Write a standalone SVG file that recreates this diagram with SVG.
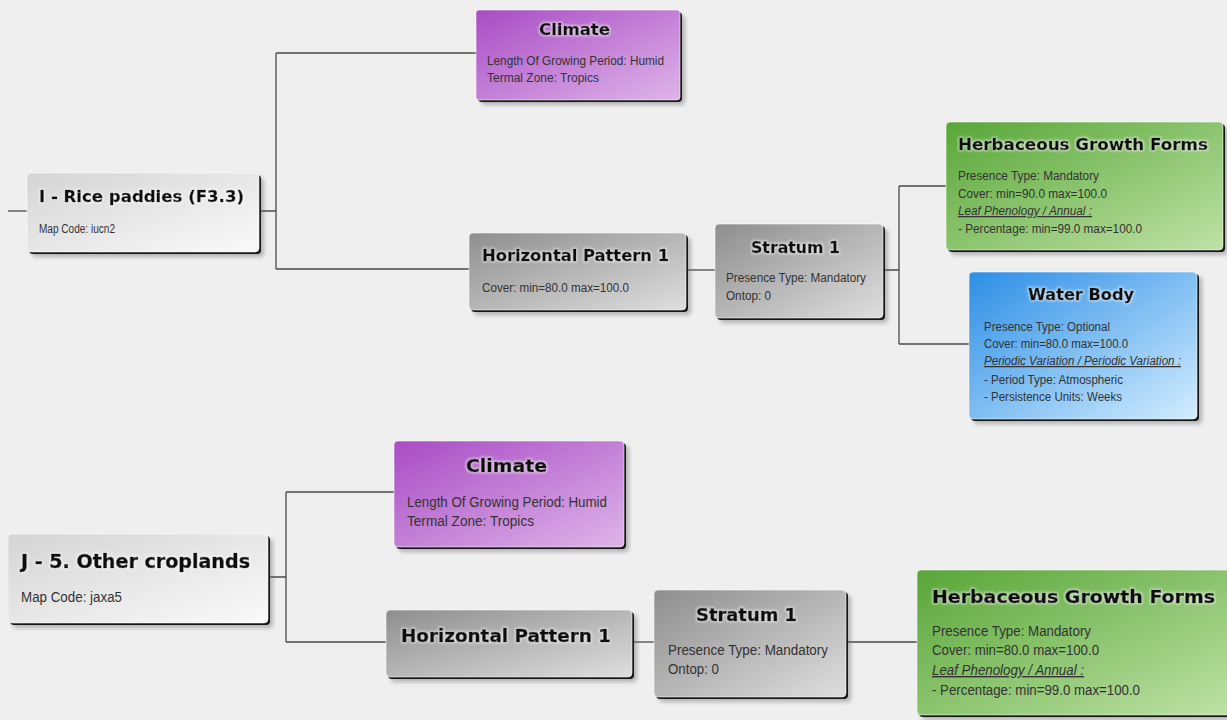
<svg xmlns="http://www.w3.org/2000/svg" width="1227" height="720" viewBox="0 0 1227 720">
<defs>
<linearGradient id="gPurple" x1="0" y1="0" x2="1" y2="1"><stop offset="0" stop-color="#a94cc5"/><stop offset="1" stop-color="#deb4e9"/></linearGradient>
<linearGradient id="gGray" x1="0" y1="0" x2="1" y2="1"><stop offset="0" stop-color="#8e8e8e"/><stop offset="1" stop-color="#dedede"/></linearGradient>
<linearGradient id="gLight" x1="0" y1="0" x2="1" y2="1"><stop offset="0" stop-color="#d4d4d4"/><stop offset="1" stop-color="#fafafa"/></linearGradient>
<linearGradient id="gGreen" x1="0" y1="0" x2="1" y2="1"><stop offset="0" stop-color="#58a637"/><stop offset="1" stop-color="#bfe2a6"/></linearGradient>
<linearGradient id="gBlue" x1="0" y1="0" x2="1" y2="1"><stop offset="0" stop-color="#2c8ee6"/><stop offset="1" stop-color="#d2edff"/></linearGradient>
<filter id="blur" x="-10%" y="-10%" width="120%" height="120%"><feGaussianBlur stdDeviation="2.2"/></filter>
<filter id="glow" x="-5%" y="-30%" width="110%" height="160%">
<feMorphology in="SourceAlpha" operator="dilate" radius="1" result="wide"/>
<feGaussianBlur in="wide" stdDeviation="1" result="wideb"/>
<feFlood flood-color="#ffffff" flood-opacity="0.55"/>
<feComposite in2="wideb" operator="in" result="g"/>
<feMerge><feMergeNode in="g"/><feMergeNode in="SourceGraphic"/></feMerge>
</filter>
</defs>
<style>
.bg{fill:#efefef}
.sh{fill:#6a6a6a;opacity:.45;filter:url(#blur)}
.edge{fill:#161616}
.box{stroke:#ffffff;stroke-opacity:.55;stroke-width:1}
.t{font-family:"DejaVu Sans","Liberation Sans",sans-serif;font-weight:bold;fill:#111;stroke:#111;stroke-width:0.4;stroke-linejoin:round;filter:url(#glow)}
.tl{stroke-width:0.6}
.b{font-family:"Liberation Sans",Arial,sans-serif;fill:#333}
.u{font-style:italic;text-decoration:underline}
.c{fill:none;stroke:#4a4a4a;stroke-width:1.3}
</style>
<rect class="bg" x="0" y="0" width="1227" height="720"/>

<g id="connectors">
<path class="c" d="M8 211H27"/>
<path class="c" d="M259 211H276M276 53V269M276 53H476M276 269H469"/>
<path class="c" d="M686 270H715"/>
<path class="c" d="M883 270H899M899 186V344M899 186H946M899 344H969"/>
<path class="c" d="M268 577H286M286 492V642M286 492H394M286 642H386"/>
<path class="c" d="M632 642H654"/>
<path class="c" d="M846 642H917"/>
</g>

<g id="node-rice">
<rect class="sh" x="32" y="178" width="232" height="79" rx="4"/>
<rect class="edge" x="29" y="175" width="232" height="79" rx="4"/>
<rect class="box" x="27" y="173" width="232" height="79" rx="4" fill="url(#gLight)"/>
<text class="t" x="39" y="202" font-size="16" textLength="205" lengthAdjust="spacingAndGlyphs">I - Rice paddies (F3.3)</text>
<text class="b" x="39" y="233" font-size="12.5" textLength="76" lengthAdjust="spacingAndGlyphs">Map Code: iucn2</text>
</g>

<g id="node-climate1">
<rect class="sh" x="481" y="15" width="204" height="90" rx="4"/>
<rect class="edge" x="478" y="12" width="204" height="90" rx="4"/>
<rect class="box" x="476" y="10" width="204" height="90" rx="3" fill="url(#gPurple)"/>
<text class="t" x="539" y="35" font-size="16" textLength="71" lengthAdjust="spacingAndGlyphs">Climate</text>
<text class="b" x="487" y="65" font-size="12.5" textLength="177" lengthAdjust="spacingAndGlyphs">Length Of Growing Period: Humid</text>
<text class="b" x="487" y="82" font-size="12.5" textLength="112" lengthAdjust="spacingAndGlyphs">Termal Zone: Tropics</text>
</g>

<g id="node-hp1">
<rect class="sh" x="474" y="238" width="217" height="77" rx="4"/>
<rect class="edge" x="471" y="235" width="217" height="77" rx="4"/>
<rect class="box" x="469" y="233" width="217" height="77" rx="4" fill="url(#gGray)"/>
<text class="t" x="482" y="261" font-size="16" textLength="187" lengthAdjust="spacingAndGlyphs">Horizontal Pattern 1</text>
<text class="b" x="482" y="292" font-size="12.5" textLength="147" lengthAdjust="spacingAndGlyphs">Cover: min=80.0 max=100.0</text>
</g>

<g id="node-stratum1">
<rect class="sh" x="720" y="229" width="168" height="94" rx="4"/>
<rect class="edge" x="717" y="226" width="168" height="94" rx="4"/>
<rect class="box" x="715" y="224" width="168" height="94" rx="4" fill="url(#gGray)"/>
<text class="t" x="751" y="253" font-size="16" textLength="89" lengthAdjust="spacingAndGlyphs">Stratum 1</text>
<text class="b" x="726" y="282" font-size="12.5" textLength="140" lengthAdjust="spacingAndGlyphs">Presence Type: Mandatory</text>
<text class="b" x="726" y="300" font-size="12.5" textLength="45" lengthAdjust="spacingAndGlyphs">Ontop: 0</text>
</g>

<g id="node-hgf1">
<rect class="sh" x="951" y="127" width="277" height="128" rx="4"/>
<rect class="edge" x="948" y="124" width="277" height="128" rx="4"/>
<rect class="box" x="946" y="122" width="277" height="128" rx="4" fill="url(#gGreen)"/>
<text class="t" x="958" y="150" font-size="16" textLength="250" lengthAdjust="spacingAndGlyphs">Herbaceous Growth Forms</text>
<text class="b" x="958" y="180" font-size="12.5" textLength="141" lengthAdjust="spacingAndGlyphs">Presence Type: Mandatory</text>
<text class="b" x="958" y="198" font-size="12.5" textLength="149" lengthAdjust="spacingAndGlyphs">Cover: min=90.0 max=100.0</text>
<text class="b u" x="958" y="215" font-size="12.5" textLength="134" lengthAdjust="spacingAndGlyphs">Leaf Phenology / Annual :</text>
<text class="b" x="958" y="233" font-size="12.5" textLength="184" lengthAdjust="spacingAndGlyphs">- Percentage: min=99.0 max=100.0</text>
</g>

<g id="node-water">
<rect class="sh" x="974" y="277" width="228" height="147" rx="4"/>
<rect class="edge" x="971" y="274" width="228" height="147" rx="4"/>
<rect class="box" x="969" y="272" width="228" height="147" rx="4" fill="url(#gBlue)"/>
<text class="t" x="1028" y="300" font-size="16" textLength="106" lengthAdjust="spacingAndGlyphs">Water Body</text>
<text class="b" x="984" y="331" font-size="12.5" textLength="126" lengthAdjust="spacingAndGlyphs">Presence Type: Optional</text>
<text class="b" x="984" y="348" font-size="12.5" textLength="144" lengthAdjust="spacingAndGlyphs">Cover: min=80.0 max=100.0</text>
<text class="b u" x="984" y="365" font-size="12.5" textLength="197" lengthAdjust="spacingAndGlyphs">Periodic Variation / Periodic Variation :</text>
<text class="b" x="984" y="384" font-size="12.5" textLength="139" lengthAdjust="spacingAndGlyphs">- Period Type: Atmospheric</text>
<text class="b" x="984" y="401" font-size="12.5" textLength="138" lengthAdjust="spacingAndGlyphs">- Persistence Units: Weeks</text>
</g>

<g id="node-jcrop">
<rect class="sh" x="13" y="539" width="260" height="89" rx="4"/>
<rect class="edge" x="10" y="536" width="260" height="89" rx="4"/>
<rect class="box" x="8" y="534" width="260" height="89" rx="4" fill="url(#gLight)"/>
<text class="t tl" x="21" y="568" font-size="19" textLength="229" lengthAdjust="spacingAndGlyphs">J - 5. Other croplands</text>
<text class="b" x="21" y="602" font-size="14" textLength="101" lengthAdjust="spacingAndGlyphs">Map Code: jaxa5</text>
</g>

<g id="node-climate2">
<rect class="sh" x="399" y="446" width="230" height="106" rx="4"/>
<rect class="edge" x="396" y="443" width="230" height="106" rx="4"/>
<rect class="box" x="394" y="441" width="230" height="106" rx="4" fill="url(#gPurple)"/>
<text class="t tl" x="466" y="472" font-size="18" textLength="81" lengthAdjust="spacingAndGlyphs">Climate</text>
<text class="b" x="407" y="507" font-size="14" textLength="200" lengthAdjust="spacingAndGlyphs">Length Of Growing Period: Humid</text>
<text class="b" x="407" y="526" font-size="14" textLength="127" lengthAdjust="spacingAndGlyphs">Termal Zone: Tropics</text>
</g>

<g id="node-hp2">
<rect class="sh" x="391" y="615" width="246" height="67" rx="4"/>
<rect class="edge" x="388" y="612" width="246" height="67" rx="4"/>
<rect class="box" x="386" y="610" width="246" height="67" rx="4" fill="url(#gGray)"/>
<text class="t tl" x="401" y="642" font-size="18" textLength="210" lengthAdjust="spacingAndGlyphs">Horizontal Pattern 1</text>
</g>

<g id="node-stratum2">
<rect class="sh" x="659" y="595" width="192" height="107" rx="4"/>
<rect class="edge" x="656" y="592" width="192" height="107" rx="4"/>
<rect class="box" x="654" y="590" width="192" height="107" rx="4" fill="url(#gGray)"/>
<text class="t tl" x="696" y="621" font-size="18" textLength="101" lengthAdjust="spacingAndGlyphs">Stratum 1</text>
<text class="b" x="668" y="655" font-size="14" textLength="160" lengthAdjust="spacingAndGlyphs">Presence Type: Mandatory</text>
<text class="b" x="668" y="674" font-size="14" textLength="51" lengthAdjust="spacingAndGlyphs">Ontop: 0</text>
</g>

<g id="node-hgf2">
<rect class="sh" x="922" y="575" width="318" height="145" rx="4"/>
<rect class="edge" x="919" y="572" width="318" height="145" rx="4"/>
<rect class="box" x="917" y="570" width="318" height="145" rx="4" fill="url(#gGreen)"/>
<text class="t tl" x="932" y="603" font-size="18" textLength="283" lengthAdjust="spacingAndGlyphs">Herbaceous Growth Forms</text>
<text class="b" x="932" y="636" font-size="14" textLength="159" lengthAdjust="spacingAndGlyphs">Presence Type: Mandatory</text>
<text class="b" x="932" y="655" font-size="14" textLength="167" lengthAdjust="spacingAndGlyphs">Cover: min=80.0 max=100.0</text>
<text class="b u" x="932" y="675" font-size="14" textLength="152" lengthAdjust="spacingAndGlyphs">Leaf Phenology / Annual :</text>
<text class="b" x="932" y="695" font-size="14" textLength="208" lengthAdjust="spacingAndGlyphs">- Percentage: min=99.0 max=100.0</text>
</g>
</svg>
